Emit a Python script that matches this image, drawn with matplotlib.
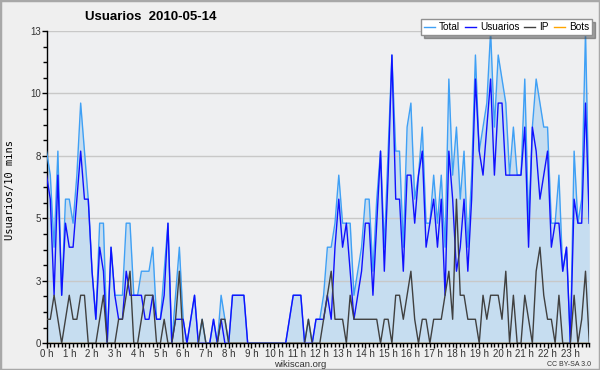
import matplotlib
matplotlib.use("Agg")
import matplotlib.pyplot as plt
import numpy as np
from matplotlib.ticker import MultipleLocator, FixedLocator
from matplotlib.patches import Rectangle

# 10-minute samples, 2010-05-14
hours = [f"{h} h" for h in range(24)]

total = [8, 7, 4, 8, 2, 6, 6, 5, 7, 10, 8, 6, 3, 1, 5, 5, 0, 4, 2, 2, 2, 5, 5, 2,
         2, 3, 3, 3, 4, 1, 1, 3, 5, 0, 2, 4, 1, 0, 1, 2, 0, 1, 0, 0, 1, 0, 2, 1,
         0, 2, 2, 2, 2, 0, 0, 0, 0, 0, 0, 0, 0, 0, 0, 0, 1, 2, 2, 2, 0, 1, 0, 1,
         1, 2, 4, 4, 5, 7, 5, 5, 5, 2, 3, 4, 6, 6, 3, 6, 8, 4, 8, 12, 8, 8, 4, 9,
         10, 6, 7, 9, 5, 5, 7, 5, 7, 4, 11, 7, 9, 6, 8, 4, 7, 12, 8, 9, 10, 13, 9, 12,
         11, 10, 7, 9, 7, 7, 11, 5, 9, 11, 10, 9, 9, 5, 5, 7, 3, 4, 0, 8, 5, 6, 13, 5]

usuarios = [7, 6, 2, 7, 2, 5, 4, 4, 6, 8, 6, 6, 3, 1, 4, 3, 0, 4, 2, 1, 1, 3, 2, 2,
            2, 2, 1, 1, 2, 1, 1, 2, 5, 0, 1, 1, 1, 0, 1, 2, 0, 0, 0, 0, 1, 0, 1, 0,
            0, 2, 2, 2, 2, 0, 0, 0, 0, 0, 0, 0, 0, 0, 0, 0, 1, 2, 2, 2, 0, 0, 0, 1,
            1, 1, 2, 1, 4, 6, 4, 5, 3, 1, 2, 3, 5, 5, 2, 5, 8, 3, 7, 12, 6, 6, 3, 7,
            7, 5, 7, 8, 4, 5, 6, 4, 6, 2, 8, 6, 3, 4, 6, 3, 6, 11, 8, 7, 9, 11, 7, 10,
            10, 7, 7, 7, 7, 7, 9, 4, 9, 8, 6, 7, 8, 4, 5, 5, 3, 4, 0, 6, 5, 5, 10, 5]

ip = [1, 1, 2, 1, 0, 1, 2, 1, 1, 2, 2, 0, 0, 0, 1, 2, 0, 0, 0, 1, 1, 2, 3, 0,
      0, 1, 2, 2, 2, 0, 0, 1, 0, 0, 1, 3, 0, 0, 0, 0, 0, 1, 0, 0, 0, 0, 1, 1,
      0, 0, 0, 0, 0, 0, 0, 0, 0, 0, 0, 0, 0, 0, 0, 0, 0, 0, 0, 0, 0, 1, 0, 0,
      0, 1, 2, 3, 1, 1, 1, 0, 2, 1, 1, 1, 1, 1, 1, 1, 0, 1, 1, 0, 2, 2, 1, 2,
      3, 1, 0, 1, 1, 0, 1, 1, 1, 2, 3, 1, 6, 2, 2, 1, 1, 1, 0, 2, 1, 2, 2, 2,
      1, 3, 0, 2, 0, 0, 2, 1, 0, 3, 4, 2, 1, 1, 0, 2, 0, 0, 0, 2, 0, 1, 3, 0]

bots = [0] * 144

y_ticks = [0, 2.6, 5.2, 7.8, 10.4, 13]
y_labels = ["0", "3", "5", "8", "10", "13"]

plt.rcParams["font.family"] = ["Liberation Sans", "DejaVu Sans"]

x = np.arange(len(total))

fig = plt.figure(figsize=(6, 3.7), dpi=100, facecolor="#efefef")
fig.patches.append(Rectangle((0, 0), 1, 1, transform=fig.transFigure, fill=False,
                             edgecolor="#a8a8a8", linewidth=2.5))

ax = fig.add_axes([46.5 / 600, 26.7 / 370, 542.8 / 600, 312.3 / 370])
ax.set_facecolor("#eeeff1")

ax.fill_between(x, total, color="#c6ddf0", linewidth=0, zorder=1)
ax.plot(x, bots, color="#ffa500", lw=1, zorder=1.2, label="Bots")
ax.plot(x, total, color="#3fa0f5", lw=1, zorder=3, label="Total")
ax.plot(x, usuarios, color="#1010ff", lw=1, zorder=4, label="Usuarios")
ax.plot(x, ip, color="#404040", lw=1, zorder=5, label="IP")

ax.set_xlim(0, len(total) - 1)
ax.set_ylim(0, 13)

ax.xaxis.set_minor_locator(MultipleLocator(1))
ax.set_xticks(np.arange(24) * 6)
ax.set_xticklabels(hours)
ax.yaxis.set_major_locator(FixedLocator(y_ticks))
ax.yaxis.set_minor_locator(MultipleLocator(0.65))
ax.set_yticklabels(y_labels)

ax.tick_params(axis="both", which="major", length=3.5, width=1, color="black",
               labelsize=7, labelcolor="#333333", pad=0.5)
ax.tick_params(axis="both", which="minor", length=3, width=1, color="black")

ax.grid(axis="y", color="#c8c8c8", linewidth=1)
ax.set_axisbelow("line")

for s in ["top", "right"]:
    ax.spines[s].set_visible(False)
for s in ["left", "bottom"]:
    ax.spines[s].set_color("black")
    ax.spines[s].set_linewidth(1)

fig.text(85 / 600, 1 - 17 / 370, "Usuarios  2010-05-14", fontsize=9.5,
         fontweight="bold", va="center", ha="left")
fig.text(10 / 600, 1 - 190 / 370, "Usuarios/10 mins", rotation=90,
         family="DejaVu Sans Mono", fontsize=7.5, va="center", ha="center")
fig.text(300 / 600, 1 - 364.5 / 370, "wikiscan.org", fontsize=6.8, color="#333333",
         ha="center", va="center")
fig.text(591 / 600, 1 - 365 / 370, "CC BY-SA 3.0", fontsize=5, color="#333333",
         ha="right", va="center")

handles, labels = ax.get_legend_handles_labels()
order = [1, 2, 3, 0]
leg = fig.legend([handles[i] for i in order], [labels[i] for i in order],
                 loc="upper right", bbox_to_anchor=(592 / 600, 1 - 19 / 370),
                 ncol=4, fontsize=7.2, frameon=True, fancybox=False, shadow=True,
                 handlelength=1.1, handletextpad=0.4, columnspacing=0.5,
                 borderpad=0.3, borderaxespad=0)
leg.get_frame().set_edgecolor("#909090")
leg.get_frame().set_linewidth(1)

fig.savefig("out.png", dpi=100, facecolor=fig.get_facecolor())
